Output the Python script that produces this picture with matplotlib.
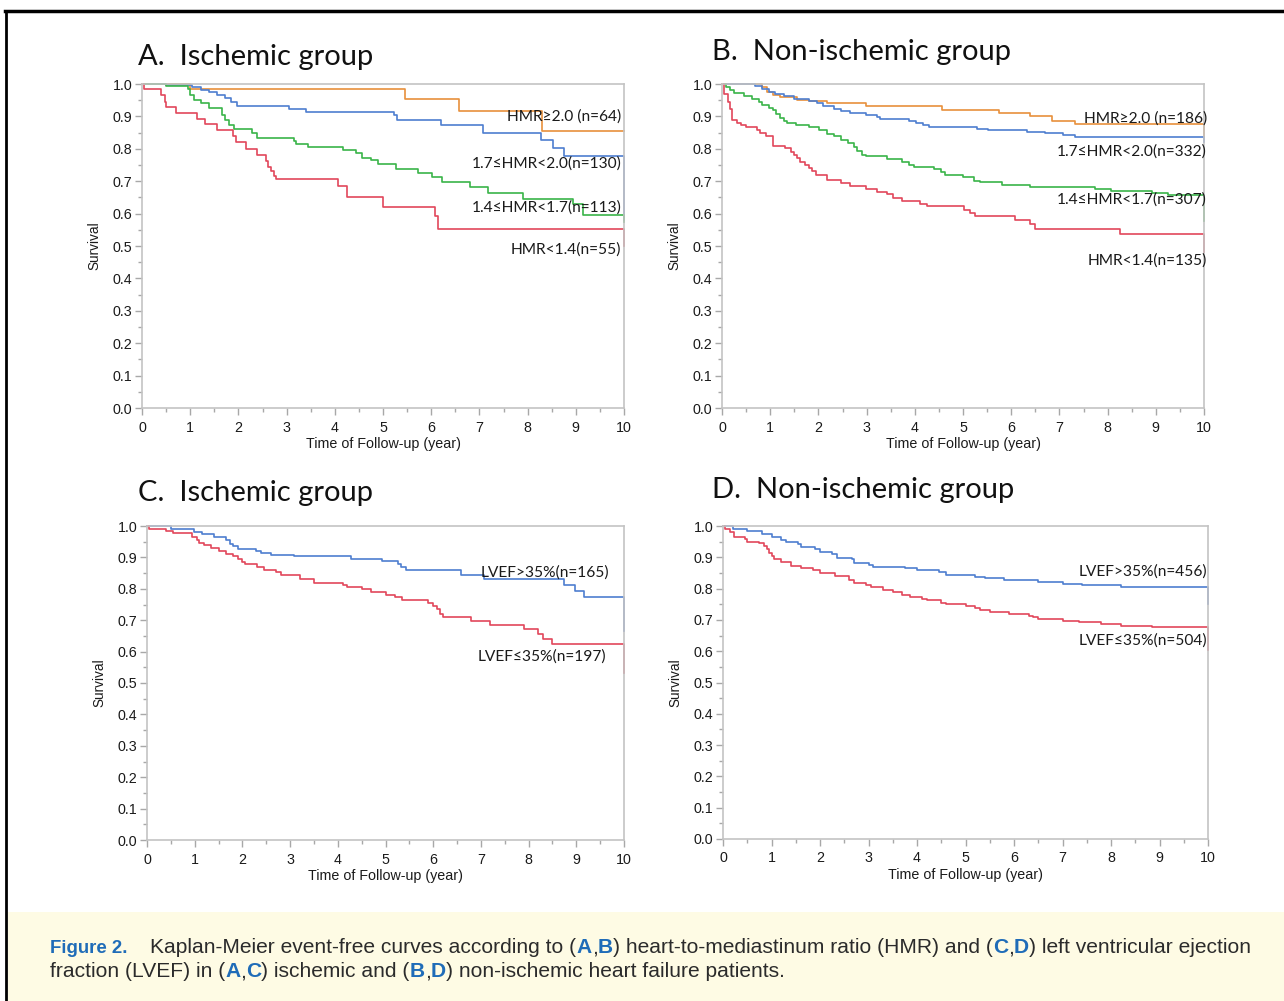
import matplotlib
matplotlib.use("Agg")
import matplotlib.pyplot as plt
from matplotlib.patches import Rectangle
from matplotlib.lines import Line2D
from matplotlib.ticker import MultipleLocator

plt.rcParams['font.family'] = ['Liberation Sans', 'DejaVu Sans']

W, H = 1284, 1001

# ---- Kaplan-Meier steps (year, survival after the step) ----
# A. ischemic group, by HMR
a_hmr20_t = [0, 1.0, 5.45, 6.58, 8.29, 10]
a_hmr20_s = [1.0, 0.985, 0.953, 0.917, 0.855, 0.855]
a_hmr17_t = [0, 0.5, 1.03, 1.22, 1.4, 1.55, 1.72, 1.85, 1.97, 3.06, 3.41, 5.23, 5.3,
             6.2, 7.07, 8.27, 8.53, 8.76, 10]
a_hmr17_s = [1.0, 0.997, 0.99, 0.982, 0.975, 0.966, 0.956, 0.945, 0.933, 0.924, 0.915,
             0.905, 0.889, 0.874, 0.85, 0.826, 0.803, 0.778, 0.58]
a_hmr14_t = [0, 0.5, 0.95, 1.0, 1.07, 1.22, 1.4, 1.66, 1.72, 1.8, 1.9, 2.28, 2.39, 3.15,
             3.19, 3.45, 4.17, 4.45, 4.56, 4.75, 4.9, 5.27, 5.73, 6.01, 6.22, 6.8, 7.18,
             7.9, 8.94, 9.15, 10]
a_hmr14_s = [1.0, 0.995, 0.985, 0.965, 0.95, 0.94, 0.925, 0.905, 0.89, 0.875, 0.862,
             0.85, 0.833, 0.823, 0.815, 0.805, 0.797, 0.788, 0.773, 0.764, 0.752, 0.738,
             0.726, 0.713, 0.698, 0.682, 0.664, 0.645, 0.63, 0.596, 0.575]
a_hmr00_t = [0, 0.05, 0.4, 0.47, 0.5, 0.71, 1.14, 1.31, 1.55, 1.89, 1.96, 2.15, 2.38,
             2.58, 2.62, 2.67, 2.74, 2.78, 4.06, 4.25, 4.99, 6.07, 6.14, 10]
a_hmr00_s = [1.0, 0.984, 0.965, 0.945, 0.929, 0.912, 0.893, 0.876, 0.857, 0.838, 0.822,
             0.8, 0.782, 0.763, 0.745, 0.73, 0.715, 0.706, 0.684, 0.652, 0.621, 0.592,
             0.553, 0.5]

# B. non-ischemic group, by HMR
b_hmr20_t = [0, 0.83, 0.94, 1.05, 1.2, 1.55, 1.8, 2.17, 2.99, 4.57, 5.74, 6.4, 6.84,
             7.33, 10]
b_hmr20_s = [1.0, 0.99, 0.975, 0.965, 0.96, 0.952, 0.947, 0.94, 0.931, 0.92, 0.911,
             0.9, 0.887, 0.876, 0.84]
b_hmr17_t = [0, 0.68, 0.83, 0.98, 1.09, 1.28, 1.5, 1.8, 1.98, 2.1, 2.32, 2.47, 2.65,
             2.99, 3.21, 3.28, 3.88, 4.03, 4.18, 4.29, 5.29, 5.51, 6.33, 6.7, 7.07, 7.33, 10]
b_hmr17_s = [1.0, 0.995, 0.985, 0.975, 0.968, 0.963, 0.955, 0.948, 0.94, 0.932, 0.924,
             0.916, 0.91, 0.904, 0.898, 0.892, 0.887, 0.88, 0.872, 0.866, 0.861, 0.857,
             0.853, 0.848, 0.842, 0.835, 0.82]
b_hmr14_t = [0, 0.09, 0.16, 0.24, 0.46, 0.62, 0.76, 0.83, 0.98, 1.05, 1.13, 1.2, 1.28,
             1.35, 1.54, 1.8, 2.02, 2.17, 2.32, 2.47, 2.62, 2.73, 2.8, 2.91, 2.99, 3.43,
             3.73, 3.88, 3.99, 4.4, 4.55, 4.62, 4.99, 5.22, 5.36, 5.81, 6.4, 7.74, 8.08,
             8.93, 9.26, 10]
b_hmr14_s = [1.0, 0.99, 0.98, 0.972, 0.962, 0.955, 0.945, 0.935, 0.927, 0.92, 0.908,
             0.896, 0.886, 0.879, 0.873, 0.866, 0.857, 0.847, 0.838, 0.828, 0.818, 0.805,
             0.792, 0.782, 0.777, 0.77, 0.76, 0.751, 0.744, 0.737, 0.728, 0.72, 0.714,
             0.701, 0.696, 0.687, 0.681, 0.675, 0.669, 0.664, 0.657, 0.577]
b_hmr00_t = [0, 0.05, 0.13, 0.16, 0.2, 0.31, 0.4, 0.5, 0.72, 0.79, 0.91, 1.05, 1.31,
             1.43, 1.5, 1.56, 1.61, 1.72, 1.8, 1.87, 1.95, 2.17, 2.47, 2.65, 2.99, 3.21,
             3.43, 3.54, 3.73, 4.1, 4.25, 5.03, 5.14, 5.25, 6.07, 6.4, 6.49, 8.26, 10]
b_hmr00_s = [1.0, 0.97, 0.945, 0.922, 0.889, 0.88, 0.873, 0.868, 0.857, 0.848, 0.838,
             0.81, 0.801, 0.791, 0.782, 0.771, 0.76, 0.75, 0.741, 0.731, 0.72, 0.705,
             0.695, 0.684, 0.675, 0.668, 0.66, 0.648, 0.639, 0.629, 0.622, 0.611, 0.601,
             0.593, 0.58, 0.567, 0.554, 0.537, 0.48]

# C. ischemic group, by LVEF
c_lvef_hi_t = [0, 0.5, 0.99, 1.16, 1.41, 1.65, 1.73, 1.8, 1.91, 2.29, 2.4, 2.59, 3.08,
               4.28, 4.92, 5.26, 5.33, 5.44, 6.59, 7.06, 8.75, 8.97, 9.16, 10]
c_lvef_hi_s = [1.0, 0.99, 0.982, 0.974, 0.965, 0.955, 0.943, 0.935, 0.926, 0.92, 0.914,
               0.909, 0.904, 0.895, 0.887, 0.88, 0.87, 0.86, 0.845, 0.831, 0.813, 0.794,
               0.775, 0.667]
c_lvef_lo_t = [0, 0.05, 0.4, 0.55, 0.95, 1.05, 1.1, 1.2, 1.35, 1.5, 1.65, 1.8, 1.9, 2.0,
               2.05, 2.3, 2.45, 2.7, 2.8, 3.2, 3.5, 4.1, 4.2, 4.5, 4.7, 5.0, 5.2, 5.35,
               5.9, 6.0, 6.08, 6.15, 6.2, 6.8, 7.2, 7.9, 8.2, 8.3, 8.5, 10]
c_lvef_lo_s = [1.0, 0.992, 0.985, 0.978, 0.965, 0.955, 0.945, 0.938, 0.93, 0.92, 0.911,
               0.905, 0.896, 0.886, 0.878, 0.871, 0.861, 0.854, 0.844, 0.831, 0.82, 0.811,
               0.805, 0.798, 0.79, 0.781, 0.775, 0.765, 0.756, 0.746, 0.736, 0.72, 0.709,
               0.699, 0.685, 0.671, 0.656, 0.641, 0.623, 0.531]

# D. non-ischemic group, by LVEF
d_lvef_hi_t = [0, 0.2, 0.5, 0.8, 1.0, 1.2, 1.3, 1.55, 1.6, 1.9, 2.0, 2.25, 2.35, 2.65,
               2.7, 3.0, 3.1, 3.75, 4.0, 4.45, 4.6, 5.2, 5.4, 5.8, 6.0, 6.5, 7.0, 7.4,
               8.2, 10]
d_lvef_hi_s = [1.0, 0.99, 0.984, 0.975, 0.965, 0.955, 0.949, 0.944, 0.933, 0.927, 0.918,
               0.909, 0.899, 0.893, 0.883, 0.875, 0.87, 0.865, 0.859, 0.852, 0.844, 0.838,
               0.833, 0.829, 0.826, 0.821, 0.816, 0.811, 0.806, 0.75]
d_lvef_lo_t = [0, 0.05, 0.15, 0.22, 0.45, 0.5, 0.75, 0.85, 0.9, 0.95, 1.0, 1.05, 1.2,
               1.4, 1.6, 1.85, 2.0, 2.3, 2.6, 2.7, 2.95, 3.05, 3.3, 3.5, 3.7, 3.85, 4.1,
               4.2, 4.5, 4.6, 5.0, 5.2, 5.3, 5.5, 5.9, 6.3, 6.4, 6.5, 7.0, 7.35, 7.8, 8.2,
               8.85, 10]
d_lvef_lo_s = [1.0, 0.99, 0.98, 0.966, 0.96, 0.95, 0.945, 0.935, 0.925, 0.915, 0.905,
               0.896, 0.885, 0.873, 0.865, 0.858, 0.849, 0.839, 0.829, 0.818, 0.811, 0.804,
               0.795, 0.788, 0.78, 0.774, 0.768, 0.762, 0.755, 0.751, 0.745, 0.739, 0.732,
               0.726, 0.719, 0.714, 0.708, 0.703, 0.698, 0.693, 0.687, 0.68, 0.676, 0.604]

hmr_labels = ['HMR\u22652.0 (n={})', '1.7\u2264HMR<2.0(n={})',
              '1.4\u2264HMR<1.7(n={})', 'HMR<1.4(n={})']
lvef_labels = ['LVEF>35%(n={})', 'LVEF\u226435%(n={})']
a_counts = [64, 130, 113, 55]
b_counts = [186, 332, 307, 135]
c_counts = [165, 197]
d_counts = [456, 504]

orange, blue, green, red = '#E8903C', '#4E7ED0', '#3AB449', '#E2475B'
calibri = ['Lato', 'DejaVu Sans']


def px_rect(left, top, right, bottom):
    return [left / W, 1 - bottom / H, (right - left) / W, (bottom - top) / H]


def km_axes(rect):
    ax = fig.add_axes(rect)
    ax.set_xlim(0, 10)
    ax.set_ylim(0, 1.0)
    for sp in ax.spines.values():
        sp.set_color('#C4C4C4')
        sp.set_linewidth(1.2)
    ax.xaxis.set_major_locator(MultipleLocator(1))
    ax.xaxis.set_minor_locator(MultipleLocator(0.5))
    ax.yaxis.set_major_locator(MultipleLocator(0.1))
    ax.yaxis.set_minor_locator(MultipleLocator(0.05))
    ax.yaxis.set_major_formatter(plt.FuncFormatter(lambda v, p: f'{v:.1f}'))
    ax.tick_params(which='major', length=5, width=1, color='#A8A8A8',
                   labelsize=10.3, labelcolor='#1a1a1a', pad=2)
    ax.tick_params(axis='x', which='major', pad=4)
    ax.tick_params(which='minor', length=3, width=1, color='#A8A8A8')
    ax.set_xlabel('Time of Follow-up (year)', fontsize=10.3, labelpad=2, color='#1a1a1a')
    ax.set_ylabel('Survival', fontsize=9.8, labelpad=8, color='#1a1a1a')
    return ax


def label(ax, x, y, text):
    ax.text(x, y, text, ha='right', va='center', fontsize=11.2, family=calibri,
            color='#1a1a1a', zorder=5)


fig = plt.figure(figsize=(W / 100, H / 100), dpi=100)

# frame of the figure and caption box
fig.add_artist(Rectangle((8 / W, 0), 1, (H - 912) / H, transform=fig.transFigure,
                         facecolor='#FEFBE4', edgecolor='none', zorder=0))
fig.add_artist(Line2D([5 / W, 1], [1 - 11 / H, 1 - 11 / H], transform=fig.transFigure,
                      color='black', lw=2.5))
fig.add_artist(Line2D([6 / W, 6 / W], [0, 1 - 11 / H], transform=fig.transFigure,
                      color='black', lw=2))

# A
ax = km_axes(px_rect(142, 84, 624, 408))
for t, s, c in [(a_hmr20_t, a_hmr20_s, orange), (a_hmr17_t, a_hmr17_s, blue),
                (a_hmr14_t, a_hmr14_s, green), (a_hmr00_t, a_hmr00_s, red)]:
    ax.plot(t, s, drawstyle='steps-post', color=c, lw=1.2, clip_on=False)
for lab, n, y in zip(hmr_labels, a_counts, [0.90, 0.754, 0.618, 0.489]):
    label(ax, 9.95, y, lab.format(n))

# B
ax = km_axes(px_rect(722, 84, 1204, 408))
for t, s, c in [(b_hmr20_t, b_hmr20_s, orange), (b_hmr17_t, b_hmr17_s, blue),
                (b_hmr14_t, b_hmr14_s, green), (b_hmr00_t, b_hmr00_s, red)]:
    ax.plot(t, s, drawstyle='steps-post', color=c, lw=1.2, clip_on=False)
for lab, n, y in zip(hmr_labels, b_counts, [0.892, 0.791, 0.643, 0.455]):
    label(ax, 10.06, y, lab.format(n))

# C
ax = km_axes(px_rect(147, 526, 624, 840))
for t, s, c in [(c_lvef_hi_t, c_lvef_hi_s, blue), (c_lvef_lo_t, c_lvef_lo_s, red)]:
    ax.plot(t, s, drawstyle='steps-post', color=c, lw=1.2, clip_on=False)
for lab, n, y, x in zip(lvef_labels, c_counts, [0.853, 0.583], [9.69, 9.62]):
    label(ax, x, y, lab.format(n))

# D
ax = km_axes(px_rect(723, 526, 1208, 839))
for t, s, c in [(d_lvef_hi_t, d_lvef_hi_s, blue), (d_lvef_lo_t, d_lvef_lo_s, red)]:
    ax.plot(t, s, drawstyle='steps-post', color=c, lw=1.2, clip_on=False)
for lab, n, y in zip(lvef_labels, d_counts, [0.853, 0.633]):
    label(ax, 9.98, y, lab.format(n))

# panel titles
for x, y, txt in [(138, 57, 'A.  Ischemic group'), (712, 52, 'B.  Non-ischemic group'),
                  (138, 493, 'C.  Ischemic group'), (712, 490, 'D.  Non-ischemic group')]:
    fig.text(x / W, 1 - y / H, txt, ha='left', va='center', fontsize=21,
             family=calibri, color='#111111')

# caption with coloured panel letters
fig.canvas.draw()
rend = fig.canvas.get_renderer()
cap_blue = '#1F6CB8'
cap_grey = '#2b2b2b'


def caption_line(x, y, pieces):
    for txt, col, bold, size, gap in pieces:
        t = fig.text(x / W, 1 - y / H, txt, ha='left', va='baseline', fontsize=size,
                     color=col, fontweight='bold' if bold else 'normal')
        bb = t.get_window_extent(renderer=rend)
        x = bb.x1 + gap


fs = 15.1
caption_line(50, 953, [
    ('Figure 2.', cap_blue, True, 13.4, 23),
    ('Kaplan-Meier event-free curves according to (', cap_grey, False, fs, 0),
    ('A', cap_blue, True, fs, 0), (',', cap_grey, False, fs, 0),
    ('B', cap_blue, True, fs, 0),
    (') heart-to-mediastinum ratio (HMR) and (', cap_grey, False, fs, 0),
    ('C', cap_blue, True, fs, 0), (',', cap_grey, False, fs, 0),
    ('D', cap_blue, True, fs, 0),
    (') left ventricular ejection', cap_grey, False, fs, 0)])
caption_line(50, 977, [
    ('fraction (LVEF) in (', cap_grey, False, fs, 0),
    ('A', cap_blue, True, fs, 0), (',', cap_grey, False, fs, 0),
    ('C', cap_blue, True, fs, 0),
    (') ischemic and (', cap_grey, False, fs, 0),
    ('B', cap_blue, True, fs, 0), (',', cap_grey, False, fs, 0),
    ('D', cap_blue, True, fs, 0),
    (') non-ischemic heart failure patients.', cap_grey, False, fs, 0)])

fig.savefig('out.png', dpi=100)
